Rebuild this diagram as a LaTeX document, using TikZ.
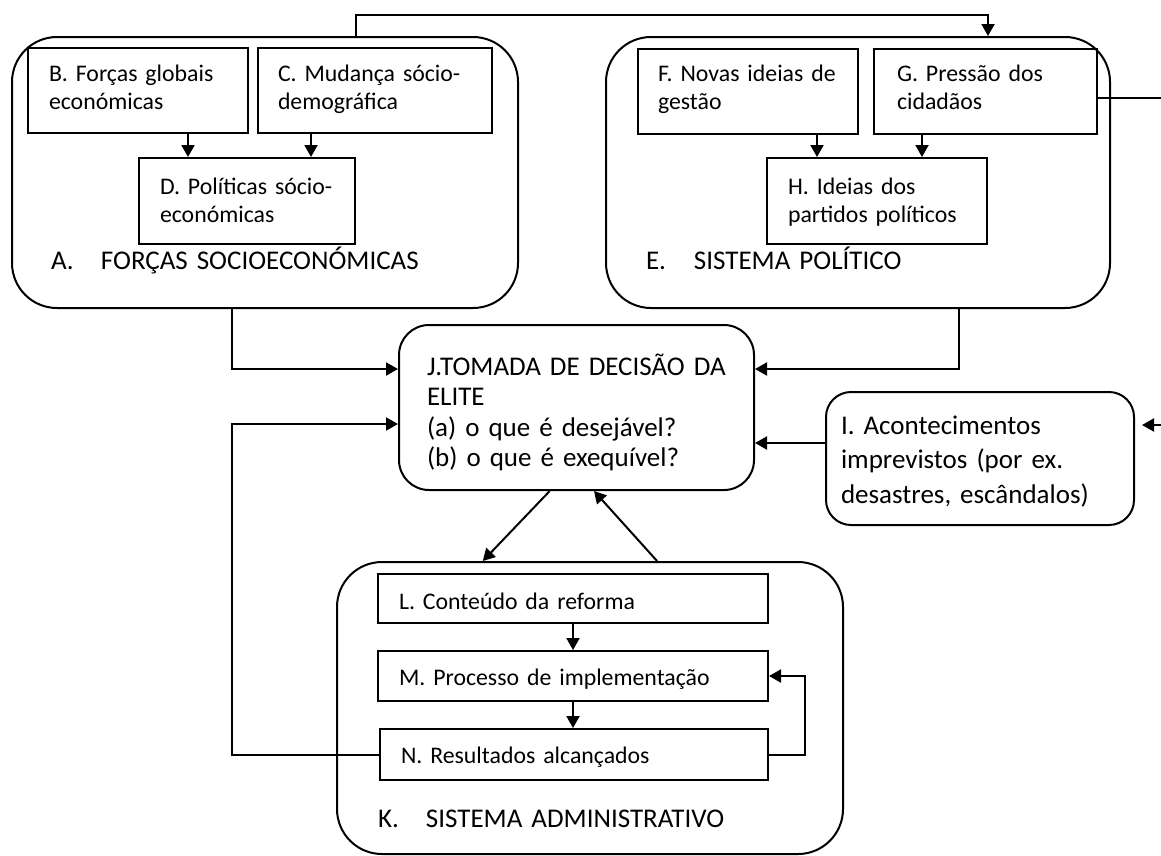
\documentclass[tikz,border=0pt]{standalone}
\usepackage{fontspec}
\setmainfont{Carlito}
\usetikzlibrary{arrows.meta,calc}
\newcommand\fsz{\fontsize{23.8}{28}\selectfont}
\newcommand\fbig{\fontsize{27}{31}\selectfont}
\tikzset{
  base/.style={font=\fsz, align=left, inner ysep=0pt, anchor=north west, line width=2pt},
  sbox/.style={base, draw, rectangle},
  rbox/.style={base, draw, rectangle, rounded corners=#1},
  conn/.style={line width=2pt, -{Triangle[length=12pt,width=13pt]}},
  plain/.style={line width=2pt},
}
\begin{document}
\begin{tikzpicture}[x=1pt,y=-1pt]
\useasboundingbox (0,0) rectangle (1161,855);
% containers
\node[rbox=45pt, font=\fbig, inner xsep=39pt, text width=428pt, text height=232pt, text depth=39pt] (A) at (11,36)
  {\mbox{\makebox[50pt][l]{A.}FORÇAS SOCIOECONÓMICAS}};
\node[rbox=45pt, font=\fbig, inner xsep=40pt, text width=424pt, text height=232pt, text depth=39pt] (E) at (605,36)
  {\mbox{\makebox[48pt][l]{E.}SISTEMA POLÍTICO}};
\node[rbox=45pt, font=\fbig, inner xsep=41pt, text width=424pt, text height=265pt, text depth=27pt] (K) at (336,561)
  {\mbox{\makebox[48pt][l]{K.}SISTEMA ADMINISTRATIVO}};
\node[rbox=30pt, font={\fontsize{27}{30.5}\selectfont}, inner xsep=28pt, text width=299pt, text height=50pt, text depth=115pt] (J) at (398,324)
  {\mbox{J.TOMADA DE DECISÃO DA}\\\mbox{ELITE}\\\mbox{(a) o que é desejável?}\\\mbox{(b) o que é exequível?}};
\node[rbox=25pt, font={\fontsize{27}{34.5}\selectfont}, inner xsep=15pt, text width=278pt, text height=42pt, text depth=91pt] (I) at (825,391)
  {\mbox{I. Acontecimentos}\\\mbox{imprevistos (por ex.}\\\mbox{desastres, escândalos)}};
% inner boxes
\node[sbox, inner xsep=21pt, text width=178pt, text height=33pt, text depth=52pt] (B) at (27,47)
  {\mbox{B. Forças globais}\\\mbox{económicas}};
\node[sbox, inner xsep=20pt, text width=194pt, text height=33pt, text depth=52pt] (C) at (257,47)
  {\mbox{C. Mudança sócio-}\\\mbox{demográfica}};
\node[sbox, inner xsep=21pt, text width=174pt, text height=36pt, text depth=50pt] (D) at (138,157)
  {\mbox{D. Políticas sócio-}\\\mbox{económicas}};
\node[sbox, inner xsep=20pt, text width=180pt, text height=32pt, text depth=53pt] (F) at (637,48)
  {\mbox{F. Novas ideias de}\\\mbox{gestão}};
\node[sbox, inner xsep=23pt, text width=177pt, text height=32pt, text depth=53pt] (G) at (873,48)
  {\mbox{G. Pressão dos}\\\mbox{cidadãos}};
\node[sbox, inner xsep=21pt, text width=178pt, text height=36pt, text depth=50pt] (H) at (766,157)
  {\mbox{H. Ideias dos}\\\mbox{partidos políticos}};
\node[sbox, inner xsep=21pt, text width=348pt, text height=35pt, text depth=14pt] (L) at (377,573)
  {\mbox{L. Conteúdo da reforma}};
\node[sbox, inner xsep=21pt, text width=348pt, text height=34pt, text depth=16pt] (M) at (377,650)
  {\mbox{M. Processo de implementação}};
\node[sbox, inner xsep=21pt, text width=346pt, text height=34pt, text depth=17pt] (N) at (379,728)
  {\mbox{N. Resultados alcançados}};
% helper coordinates
\coordinate (topy) at (0,15);
\coordinate (lx) at (232,0);
\coordinate (ex) at (959,0);
\coordinate (ja) at (0,369);
\coordinate (jb) at (0,424);
\coordinate (jc) at (0,443);
\coordinate (bx) at (188,0);
\coordinate (cx) at (311,0);
\coordinate (fx) at (817,0);
\coordinate (gx) at (922,0);
\coordinate (gedge) at (1161,98);
\coordinate (iedge) at (1161,425);
\coordinate (itip) at (1142,425);
% connectors
\draw[conn] (B.south -| bx) -- (D.north -| bx);
\draw[conn] (C.south -| cx) -- (D.north -| cx);
\draw[conn] (F.south -| fx) -- (H.north -| fx);
\draw[conn] (G.south -| gx) -- (H.north -| gx);
\draw[conn] (A.north -| D.east) |- (H.east |- topy) -- (E.north -| H.east);
\draw[plain] (G.east |- gedge) -- (gedge);
\draw[conn] (iedge) -- (itip);
\draw[conn] (A.south -| lx) |- (J.west |- ja);
\draw[conn] (E.south -| ex) |- (J.east |- ja);
\draw[conn] (I.west |- jc) -- (J.east |- jc);
\draw[conn] (N.west) -| (lx |- jb) -- (J.west |- jb);
\draw[conn] ($(J.south west)!0.425!(J.south east)$) -- ($(K.north west)!0.289!(K.north east)$);
\draw[conn] ($(K.north west)!0.632!(K.north east)$) -- ($(J.south west)!0.549!(J.south east)$);
\draw[conn] (L.south) -- (L.south |- M.north);
\draw[conn] (M.south) -- (M.south |- N.north);
\draw[conn] (N.east) -- ++(36,0) |- (M.east);
\end{tikzpicture}
\end{document}
